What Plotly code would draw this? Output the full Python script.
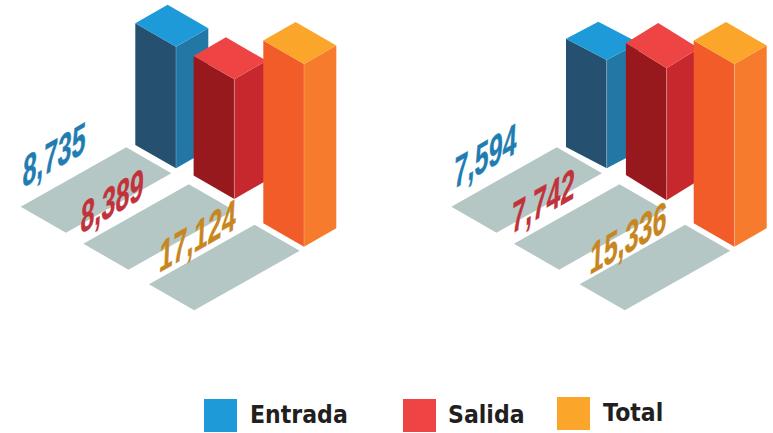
import plotly.graph_objects as go

# ---- data ----
series = ["Entrada", "Salida", "Total"]
chart1_values = [8735, 8389, 17124]
chart2_values = [7594, 7742, 15336]
# drawn bar heights as they appear in the artwork (not proportional to the labels)
chart1_bar_heights = [121.6, 119.7, 182.7]
chart2_bar_heights = [108.3, 132.0, 182.7]

# ---- styles ----
top_colors = ["#1F9AD8", "#EF4444", "#FBA62A"]
left_colors = ["#26506F", "#98191D", "#F25C29"]
right_colors = ["#2377A5", "#C6282D", "#F77B2D"]
label_colors = ["#1F7DB2", "#C1323A", "#C8861E"]
tile_color = "#B5C7C4"

# ---- layout geometry (isometric projection, pixels) ----
BAR_W1, BAR_W2 = 40.7, 32.3
charts = [
    dict(values=chart1_values, heights=chart1_bar_heights,
         fronts=[(176.0, 168.3), (234.3, 199.0), (304.0, 246.7)],
         slopes=[0.575, 0.575, 0.575], tile_dx=0.0,
         label_pos=[(54, 154), (112, 200), (198, 235)]),
    dict(values=chart2_values, heights=chart2_bar_heights,
         fronts=[(606.7, 168.3), (666.6, 200.3), (734.4, 246.7)],
         slopes=[0.525, 0.62, 0.575], tile_dx=430.6,
         label_pos=[(485.3, 155), (543, 200), (628, 237)]),
]
tile_lefts = [(20.7, 206.7), (83.3, 243.7), (149.0, 284.3)]
TILE_LONG = (105.5, -59.5)
TILE_SHORT = (45.2, 26.0)

legend_squares = [(220.5, 415.5), (419.5, 415.5), (573.5, 413.5)]
legend_texts = [(248, 415), (446, 415), (601, 412.5)]

fig = go.Figure()


def poly(pts, color):
    xs = [p[0] for p in pts] + [pts[0][0]]
    ys = [p[1] for p in pts] + [pts[0][1]]
    fig.add_trace(go.Scatter(x=xs, y=ys, mode="lines", fill="toself",
                             fillcolor=color, line=dict(width=0),
                             hoverinfo="skip", showlegend=False))


def edge(p, q):
    fig.add_trace(go.Scatter(x=[p[0], q[0]], y=[p[1], q[1]], mode="lines",
                             line=dict(width=0.7, color="rgba(255,255,255,0.35)"),
                             hoverinfo="skip", showlegend=False))


for ch in charts:
    # ground tiles
    for (lx, ly) in tile_lefts:
        lx += ch["tile_dx"]
        a = (lx, ly)
        b = (lx + TILE_LONG[0], ly + TILE_LONG[1])
        c = (b[0] + TILE_SHORT[0], b[1] + TILE_SHORT[1])
        d = (lx + TILE_SHORT[0], ly + TILE_SHORT[1])
        poly([a, b, c, d], tile_color)
    # bars
    for i in range(3):
        fx, fy = ch["fronts"][i]
        h = ch["heights"][i]
        s = ch["slopes"][i]
        lft = (fx - BAR_W1, fy - BAR_W1 * s)
        rgt = (fx + BAR_W2, fy - BAR_W2 * s)
        up = lambda p: (p[0], p[1] - h)
        front = (fx, fy)
        back = (lft[0] + BAR_W2, lft[1] - BAR_W2 * s)
        poly([lft, front, up(front), up(lft)], left_colors[i])
        poly([front, rgt, up(rgt), up(front)], right_colors[i])
        poly([up(lft), up(front), up(rgt), up(back)], top_colors[i])
        edge(front, up(front))
    # skewed value labels
    for i in range(3):
        x, y = ch["label_pos"][i]
        fig.add_annotation(x=x, y=y, xref="x", yref="y", showarrow=False,
                           text=f"{ch['values'][i]:,}",
                           font=dict(family="Liberation Sans", size=33,
                                     color=label_colors[i], weight="bold"))

# legend
for i, name in enumerate(series):
    x, y = legend_squares[i]
    fig.add_trace(go.Scatter(x=[x], y=[y], mode="markers", name=name,
                             marker=dict(symbol="square", size=33, color=top_colors[i],
                                         line=dict(width=0)),
                             hoverinfo="skip", showlegend=False))
    tx, ty = legend_texts[i]
    fig.add_annotation(x=tx, y=ty, xref="x", yref="y", showarrow=False,
                       xanchor="left", yanchor="middle", text=f"<b>{name}</b>",
                       font=dict(family="DejaVu Sans", size=24, color="#231F20"))

fig.update_layout(
    width=773, height=433, margin=dict(l=0, r=0, t=0, b=0),
    paper_bgcolor="white", plot_bgcolor="white", showlegend=False,
    xaxis=dict(range=[0, 773], visible=False, fixedrange=True),
    yaxis=dict(range=[433, 0], visible=False, fixedrange=True),
)

skew_js = r"""
document.body.style.margin = '0';
document.documentElement.style.overflow = 'hidden';
document.querySelectorAll('text.annotation-text').forEach(function (t) {
  var b = t.getBBox(), cx = b.x + b.width / 2, cy = b.y + b.height / 2;
  if (/^\d+,\d+$/.test(t.textContent)) {
    t.setAttribute('stroke', t.style.fill);
    t.setAttribute('stroke-width', '0.3');
    t.setAttribute('transform',
      'translate(' + cx + ',' + cy + ') matrix(0.76,-0.44,-0.07,1.35,0,0) translate(' + (-cx) + ',' + (-cy) + ')');
  } else {
    t.setAttribute('transform',
      'translate(' + b.x + ',0) scale(0.92,1) translate(' + (-b.x) + ',0)');
  }
});
"""
fig.write_html("out.html", post_script=skew_js, config={"displayModeBar": False})
